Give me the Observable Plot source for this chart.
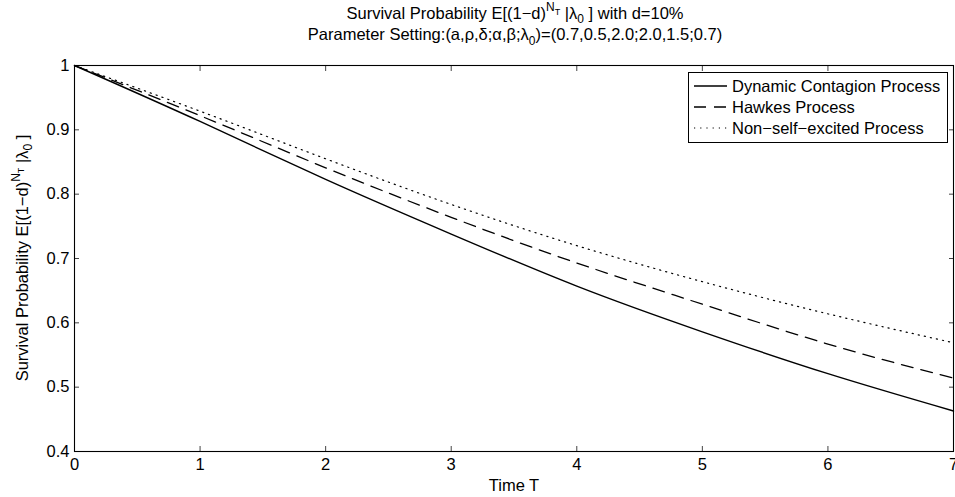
<!DOCTYPE html>
<html><head><meta charset="utf-8">
<script src="https://cdn.jsdelivr.net/npm/d3@7"></script>
<script src="https://cdn.jsdelivr.net/npm/@observablehq/plot@0.6"></script>
<style>body{margin:0;background:#fff} #chart{width:955px;height:497px}</style>
</head><body><div id="chart"></div>
<script>
const times = [0, 1, 2, 3, 4, 5, 6, 7];
const dcp = [1.000, 0.913, 0.823, 0.738, 0.657, 0.586, 0.521, 0.463];
const hawkes = [1.000, 0.922, 0.841, 0.764, 0.693, 0.629, 0.567, 0.514];
const nse = [1.000, 0.929, 0.855, 0.784, 0.720, 0.664, 0.614, 0.569];
const seriesNames = ["Dynamic Contagion Process", "Hawkes Process", "Non\u2212self\u2212excited Process"];
const xTicks = [0, 1, 2, 3, 4, 5, 6, 7];
const yTicks = [0.4, 0.5, 0.6, 0.7, 0.8, 0.9, 1];

const dashes = [null, "12,8", "1.2,5"];
const widths = [1.4, 1.3, 1.2];
const seriesValues = [dcp, hawkes, nse];

const font = "'Liberation Sans', Arial, Helvetica, sans-serif";
const fs = 16.5;

const plot = Plot.plot({
  width: 955, height: 497,
  marginLeft: 74, marginRight: 2, marginTop: 65, marginBottom: 46,
  style: {fontFamily: font, fontSize: fs + "px", color: "#000", background: "#fff"},
  x: {domain: [0, 7], label: null},
  y: {domain: [0.4, 1], label: null},
  marks: [
    ...seriesValues.map((vals, i) => Plot.line(times, {
      x: (d) => d, y: (d, j) => vals[j], curve: "natural",
      stroke: "#000", strokeWidth: widths[i], strokeDasharray: dashes[i]
    })),
    Plot.axisX(xTicks, {anchor: "bottom", tickSize: -5, tickPadding: 12, label: null, tickFormat: d => String(d), stroke: "#444"}),
    Plot.axisX(xTicks, {anchor: "top", tickSize: -5, label: null, tickFormat: () => "", stroke: "#444"}),
    Plot.axisY(yTicks, {anchor: "left", tickSize: -5, tickPadding: 10, label: null, tickFormat: d => String(Math.round(d * 10) / 10), stroke: "#444"}),
    Plot.axisY(yTicks, {anchor: "right", tickSize: -5, label: null, tickFormat: () => "", stroke: "#444"}),
    Plot.frame({stroke: "#000", strokeWidth: 1.1})
  ]
});
document.getElementById("chart").appendChild(plot);

const svg = d3.select(plot);
function rich(g, segs) {
  const t = g.append("text").attr("font-family", font).attr("fill", "#000");
  segs.forEach(s => {
    const ts = t.append("tspan").text(s.t).attr("font-size", s.size || fs);
    if (s.dy) ts.attr("dy", s.dy);
  });
  return t;
}
const titleSeg = (extra) => [
  {t: "Survival Probability E[(1\u2212d)"},
  {t: "N", dy: -8, size: 12},
  {t: "T", dy: 4, size: 9},
  {t: " |\u03bb", dy: 4},
  {t: "0", dy: 4, size: 12},
  {t: " ]" + extra, dy: -4}
];
const g = svg.append("g");
rich(g, titleSeg(" with d=10%")).attr("x", 515).attr("y", 19).attr("text-anchor", "middle");
rich(g, [
  {t: "Parameter Setting:(a,\u03c1,\u03b4;\u03b1,\u03b2;\u03bb"},
  {t: "0", dy: 5, size: 12},
  {t: ")=(0.7,0.5,2.0;2.0,1.5;0.7)", dy: -5}
]).attr("x", 515).attr("y", 40).attr("text-anchor", "middle");
rich(g, titleSeg("")).attr("text-anchor", "middle").attr("transform", "translate(28,258) rotate(-90)");
rich(g, [{t: "Time T"}]).attr("x", 514).attr("y", 491).attr("text-anchor", "middle");

// legend
const lg = svg.append("g");
lg.append("rect").attr("x", 688.5).attr("y", 72.5).attr("width", 259).attr("height", 70)
  .attr("fill", "#fff").attr("stroke", "#000").attr("stroke-width", 1);
seriesNames.forEach((name, i) => {
  const y = 86 + i * 21;
  lg.append("line").attr("x1", 694).attr("x2", 727).attr("y1", y).attr("y2", y)
    .attr("stroke", "#000").attr("stroke-width", widths[i]).attr("stroke-dasharray", dashes[i]);
  lg.append("text").attr("x", 732).attr("y", y + 6).attr("text-anchor", "start")
    .attr("font-family", font).attr("font-size", fs).text(name);
});
</script></body></html>
